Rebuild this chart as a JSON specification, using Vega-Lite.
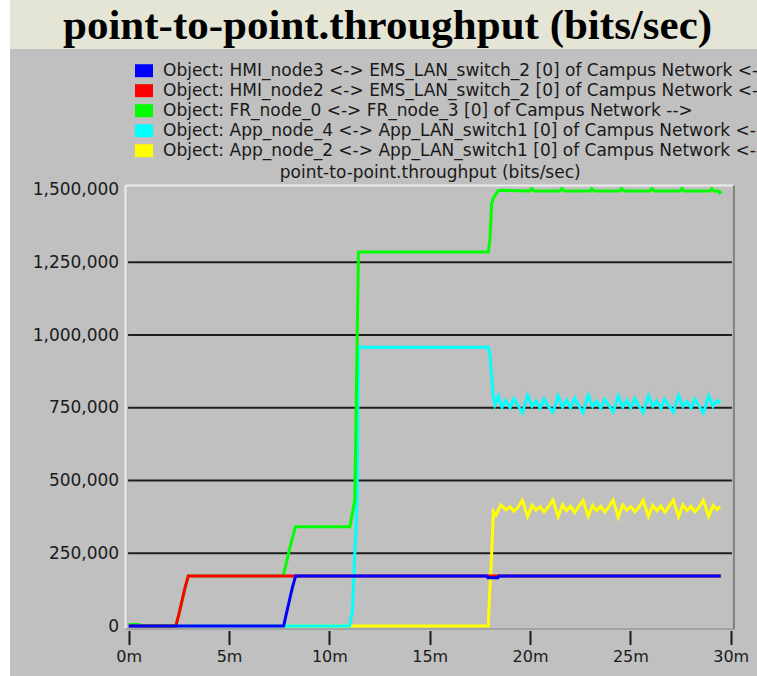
{
  "$schema": "https://vega.github.io/schema/vega-lite/v6.json",
  "background": "#ffffff",
  "padding": {"left": 10, "top": 0, "right": 0, "bottom": 0},
  "spacing": 0,
  "bounds": "flush",
  "config": {"view": {"stroke": null}, "font": "DejaVu Sans"},
  "datasets": {
    "names": [
      {"k": "B", "s": "Object: HMI_node3 <-> EMS_LAN_switch_2 [0] of Campus Network <--"},
      {"k": "R", "s": "Object: HMI_node2 <-> EMS_LAN_switch_2 [0] of Campus Network <--"},
      {"k": "G", "s": "Object: FR_node_0 <-> FR_node_3 [0] of Campus Network -->"},
      {"k": "C", "s": "Object: App_node_4 <-> App_LAN_switch1 [0] of Campus Network <--"},
      {"k": "Y", "s": "Object: App_node_2 <-> App_LAN_switch1 [0] of Campus Network <--"}
    ],
    "lines": [
      {"k":"Y","t":0,"v":0},{"k":"Y","t":17.92,"v":0},{"k":"Y","t":17.97,"v":90000},{"k":"Y","t":18.05,"v":190000},{"k":"Y","t":18.12,"v":300000},{"k":"Y","t":18.17,"v":393000},{"k":"Y","t":18.3,"v":381000},{"k":"Y","t":18.55,"v":416000},{"k":"Y","t":18.8,"v":399000},{"k":"Y","t":19.0,"v":410000},{"k":"Y","t":19.2,"v":394000},{"k":"Y","t":19.4,"v":408000},{"k":"Y","t":19.62,"v":432000},{"k":"Y","t":19.88,"v":376000},{"k":"Y","t":20.1,"v":415000},{"k":"Y","t":20.3,"v":398000},{"k":"Y","t":20.5,"v":410000},{"k":"Y","t":20.7,"v":392000},{"k":"Y","t":20.9,"v":408000},{"k":"Y","t":21.14,"v":433000},{"k":"Y","t":21.4,"v":375000},{"k":"Y","t":21.62,"v":417000},{"k":"Y","t":21.82,"v":396000},{"k":"Y","t":22.02,"v":412000},{"k":"Y","t":22.22,"v":390000},{"k":"Y","t":22.42,"v":410000},{"k":"Y","t":22.64,"v":431000},{"k":"Y","t":22.9,"v":377000},{"k":"Y","t":23.12,"v":414000},{"k":"Y","t":23.32,"v":397000},{"k":"Y","t":23.52,"v":411000},{"k":"Y","t":23.72,"v":391000},{"k":"Y","t":23.92,"v":409000},{"k":"Y","t":24.14,"v":433000},{"k":"Y","t":24.4,"v":374000},{"k":"Y","t":24.62,"v":416000},{"k":"Y","t":24.82,"v":398000},{"k":"Y","t":25.02,"v":410000},{"k":"Y","t":25.22,"v":393000},{"k":"Y","t":25.42,"v":407000},{"k":"Y","t":25.64,"v":432000},{"k":"Y","t":25.9,"v":376000},{"k":"Y","t":26.12,"v":415000},{"k":"Y","t":26.32,"v":396000},{"k":"Y","t":26.52,"v":412000},{"k":"Y","t":26.72,"v":391000},{"k":"Y","t":26.92,"v":410000},{"k":"Y","t":27.14,"v":433000},{"k":"Y","t":27.4,"v":375000},{"k":"Y","t":27.62,"v":416000},{"k":"Y","t":27.82,"v":397000},{"k":"Y","t":28.02,"v":411000},{"k":"Y","t":28.22,"v":392000},{"k":"Y","t":28.42,"v":408000},{"k":"Y","t":28.64,"v":432000},{"k":"Y","t":28.9,"v":377000},{"k":"Y","t":29.12,"v":414000},{"k":"Y","t":29.32,"v":400000},{"k":"Y","t":29.47,"v":410000},
      {"k":"C","t":0,"v":0},{"k":"C","t":11.0,"v":0},{"k":"C","t":11.15,"v":50000},{"k":"C","t":11.38,"v":430000},{"k":"C","t":11.45,"v":958000},{"k":"C","t":17.92,"v":958000},{"k":"C","t":18.0,"v":930000},{"k":"C","t":18.09,"v":856000},{"k":"C","t":18.17,"v":788000},{"k":"C","t":18.25,"v":760000},{"k":"C","t":18.42,"v":790000},{"k":"C","t":18.6,"v":752000},{"k":"C","t":18.8,"v":775000},{"k":"C","t":19.0,"v":750000},{"k":"C","t":19.2,"v":780000},{"k":"C","t":19.4,"v":758000},{"k":"C","t":19.62,"v":733000},{"k":"C","t":19.88,"v":792000},{"k":"C","t":20.1,"v":755000},{"k":"C","t":20.3,"v":773000},{"k":"C","t":20.5,"v":748000},{"k":"C","t":20.7,"v":780000},{"k":"C","t":20.9,"v":756000},{"k":"C","t":21.14,"v":735000},{"k":"C","t":21.4,"v":790000},{"k":"C","t":21.62,"v":752000},{"k":"C","t":21.82,"v":776000},{"k":"C","t":22.02,"v":750000},{"k":"C","t":22.22,"v":782000},{"k":"C","t":22.42,"v":757000},{"k":"C","t":22.64,"v":733000},{"k":"C","t":22.9,"v":793000},{"k":"C","t":23.12,"v":754000},{"k":"C","t":23.32,"v":772000},{"k":"C","t":23.52,"v":749000},{"k":"C","t":23.72,"v":779000},{"k":"C","t":23.92,"v":758000},{"k":"C","t":24.14,"v":736000},{"k":"C","t":24.4,"v":790000},{"k":"C","t":24.62,"v":753000},{"k":"C","t":24.82,"v":775000},{"k":"C","t":25.02,"v":750000},{"k":"C","t":25.22,"v":781000},{"k":"C","t":25.42,"v":756000},{"k":"C","t":25.64,"v":734000},{"k":"C","t":25.9,"v":791000},{"k":"C","t":26.12,"v":755000},{"k":"C","t":26.32,"v":774000},{"k":"C","t":26.52,"v":748000},{"k":"C","t":26.72,"v":779000},{"k":"C","t":26.92,"v":757000},{"k":"C","t":27.14,"v":735000},{"k":"C","t":27.4,"v":792000},{"k":"C","t":27.62,"v":754000},{"k":"C","t":27.82,"v":772000},{"k":"C","t":28.02,"v":750000},{"k":"C","t":28.22,"v":780000},{"k":"C","t":28.42,"v":756000},{"k":"C","t":28.64,"v":733000},{"k":"C","t":28.9,"v":791000},{"k":"C","t":29.12,"v":755000},{"k":"C","t":29.32,"v":775000},{"k":"C","t":29.5,"v":765000},
      {"k":"G","t":0,"v":5000},{"k":"G","t":0.5,"v":5000},{"k":"G","t":0.6,"v":0},{"k":"G","t":2.35,"v":0},{"k":"G","t":2.97,"v":172000},{"k":"G","t":7.69,"v":172000},{"k":"G","t":7.8,"v":200000},{"k":"G","t":8.0,"v":260000},{"k":"G","t":8.15,"v":300000},{"k":"G","t":8.31,"v":341000},{"k":"G","t":11.02,"v":341000},{"k":"G","t":11.27,"v":433000},{"k":"G","t":11.45,"v":1285000},{"k":"G","t":17.92,"v":1285000},{"k":"G","t":18.0,"v":1326000},{"k":"G","t":18.09,"v":1452000},{"k":"G","t":18.17,"v":1470000},{"k":"G","t":18.42,"v":1496000},{"k":"G","t":18.59,"v":1497000},{"k":"G","t":19.98,"v":1495000},{"k":"G","t":20.08,"v":1503000},{"k":"G","t":20.2,"v":1495000},{"k":"G","t":21.48,"v":1495000},{"k":"G","t":21.58,"v":1503000},{"k":"G","t":21.7,"v":1495000},{"k":"G","t":22.98,"v":1495000},{"k":"G","t":23.08,"v":1503000},{"k":"G","t":23.2,"v":1495000},{"k":"G","t":24.47,"v":1495000},{"k":"G","t":24.57,"v":1503000},{"k":"G","t":24.69,"v":1495000},{"k":"G","t":25.97,"v":1495000},{"k":"G","t":26.07,"v":1503000},{"k":"G","t":26.19,"v":1495000},{"k":"G","t":27.47,"v":1495000},{"k":"G","t":27.57,"v":1503000},{"k":"G","t":27.69,"v":1495000},{"k":"G","t":28.96,"v":1495000},{"k":"G","t":29.06,"v":1503000},{"k":"G","t":29.18,"v":1495000},{"k":"G","t":29.38,"v":1495000},{"k":"G","t":29.45,"v":1489000},{"k":"G","t":29.55,"v":1493000},
      {"k":"R","t":0,"v":0},{"k":"R","t":2.35,"v":0},{"k":"R","t":2.5,"v":40000},{"k":"R","t":2.65,"v":85000},{"k":"R","t":2.8,"v":130000},{"k":"R","t":2.97,"v":172000},{"k":"R","t":29.5,"v":172000},
      {"k":"B","t":0,"v":0},{"k":"B","t":7.72,"v":0},{"k":"B","t":7.85,"v":40000},{"k":"B","t":8.0,"v":85000},{"k":"B","t":8.15,"v":130000},{"k":"B","t":8.32,"v":172000},{"k":"B","t":17.85,"v":172000},{"k":"B","t":17.9,"v":166000},{"k":"B","t":18.4,"v":166000},{"k":"B","t":18.45,"v":172000},{"k":"B","t":29.5,"v":172000}
    ]
  },
  "vconcat": [
    {
      "width": 747,
      "height": 49,
      "view": {"fill": "#e5e5d6", "stroke": null},
      "data": {"values": [{"title": "point-to-point.throughput (bits/sec)"}]},
      "mark": {"type": "text", "font": "Liberation Serif", "fontWeight": "bold", "fontSize": 43, "baseline": "alphabetic", "align": "center", "color": "#000000", "dx": 4, "dy": 14},
      "encoding": {"text": {"field": "title"}}
    },
    {
      "width": 747,
      "height": 627,
      "view": {"fill": "#c0c0c0", "stroke": null},
      "resolve": {"axis": {"x": "independent", "y": "independent"}},
      "layer": [
        {
          "data": {"values": [{"g": 250000}, {"g": 500000}, {"g": 750000}, {"g": 1000000}, {"g": 1250000}]},
          "mark": {"type": "rule", "color": "#1e1e1e", "strokeWidth": 2},
          "encoding": {
            "y": {"field": "g", "type": "quantitative", "scale": {"domain": [-171821, 1982818], "nice": false, "zero": false}, "axis": null},
            "x": {"datum": -0.03, "type": "quantitative", "scale": {"domain": [-5.915, 31.311], "nice": false, "zero": false}, "axis": null},
            "x2": {"datum": 30.06}
          }
        },
        {
          "data": {"values": [{}]},
          "mark": {"type": "rule", "color": "#ececec", "strokeWidth": 2},
          "encoding": {
            "y": {"datum": 1513748, "type": "quantitative", "scale": {"domain": [-171821, 1982818], "nice": false, "zero": false}, "axis": null},
            "x": {"datum": -0.16, "type": "quantitative", "scale": {"domain": [-5.915, 31.311], "nice": false, "zero": false}, "axis": null},
            "x2": {"datum": 30.16}
          }
        },
        {
          "data": {"values": [{}]},
          "mark": {"type": "rule", "color": "#ececec", "strokeWidth": 2},
          "encoding": {
            "x": {"datum": -0.16, "type": "quantitative", "scale": {"domain": [-5.915, 31.311], "nice": false, "zero": false}, "axis": null},
            "y": {"datum": -10309, "type": "quantitative", "scale": {"domain": [-171821, 1982818], "nice": false, "zero": false}, "axis": null},
            "y2": {"datum": 1513748}
          }
        },
        {
          "data": {"values": [{}]},
          "mark": {"type": "rule", "color": "#808080", "strokeWidth": 2},
          "encoding": {
            "x": {"datum": 30.16, "type": "quantitative", "scale": {"domain": [-5.915, 31.311], "nice": false, "zero": false}, "axis": null},
            "y": {"datum": -12000, "type": "quantitative", "scale": {"domain": [-171821, 1982818], "nice": false, "zero": false}, "axis": null},
            "y2": {"datum": 1513748}
          }
        },
        {
          "data": {"values": [{}]},
          "mark": {"type": "rule", "color": "#9a9a9a", "strokeWidth": 1.5},
          "encoding": {
            "y": {"datum": -10309, "type": "quantitative", "scale": {"domain": [-171821, 1982818], "nice": false, "zero": false}, "axis": null},
            "x": {"datum": -0.16, "type": "quantitative", "scale": {"domain": [-5.915, 31.311], "nice": false, "zero": false}, "axis": null},
            "x2": {"datum": 30.16}
          }
        },
        {
          "data": {"name": "lines"},
          "transform": [{"lookup": "k", "from": {"data": {"name": "names"}, "key": "k", "fields": ["s"]}}],
          "mark": {"type": "line", "strokeWidth": 3, "strokeCap": "butt", "strokeJoin": "miter"},
          "encoding": {
            "x": {"field": "t", "type": "quantitative", "scale": {"domain": [-5.915, 31.311], "nice": false, "zero": false},
                  "axis": {"orient": "bottom", "offset": -45.5, "values": [0, 5, 10, 15, 20, 25, 30], "labelExpr": "datum.value + 'm'",
                           "domain": false, "grid": false, "ticks": true, "tickSize": 14, "tickWidth": 2, "tickColor": "#1a1a1a",
                           "labelFont": "DejaVu Sans", "labelFontSize": 16, "labelColor": "#1a1a1a", "labelPadding": 4, "labelFlush": false, "labelOverlap": false, "title": null}},
            "y": {"field": "v", "type": "quantitative", "scale": {"domain": [-171821, 1982818], "nice": false, "zero": false},
                  "axis": {"orient": "left", "offset": -118.7, "values": [0, 250000, 500000, 750000, 1000000, 1250000, 1500000], "format": ",.0f",
                           "domain": false, "grid": false, "ticks": false, "labelPadding": 10,
                           "labelFont": "DejaVu Sans", "labelFontSize": 17, "labelColor": "#1a1a1a", "labelOverlap": false,
                           "title": "point-to-point.throughput (bits/sec)", "titleFont": "DejaVu Sans", "titleFontSize": 17, "titleFontWeight": "normal", "titleColor": "#1a1a1a",
                           "titleAngle": 0, "titleX": 301, "titleY": 128, "titleAlign": "center", "titleBaseline": "alphabetic"}},
            "color": {"field": "s", "type": "nominal",
                      "scale": {"domain": [
                        "Object: HMI_node3 <-> EMS_LAN_switch_2 [0] of Campus Network <--",
                        "Object: HMI_node2 <-> EMS_LAN_switch_2 [0] of Campus Network <--",
                        "Object: FR_node_0 <-> FR_node_3 [0] of Campus Network -->",
                        "Object: App_node_4 <-> App_LAN_switch1 [0] of Campus Network <--",
                        "Object: App_node_2 <-> App_LAN_switch1 [0] of Campus Network <--"],
                        "range": ["#0000ff", "#ff0000", "#00ff00", "#00ffff", "#ffff00"]},
                      "legend": {"orient": "none", "legendX": 125, "legendY": 61.7, "title": null, "padding": 0,
                                 "symbolType": "M-1,-0.72H1V0.72H-1Z", "symbolSize": 324, "symbolStrokeWidth": 0, "symbolOpacity": 1,
                                 "labelFont": "DejaVu Sans", "labelFontSize": 17, "labelColor": "#1a1a1a", "labelLimit": 2000, "labelOffset": 10,
                                 "rowPadding": 3,
                                 "encode": {"symbols": {"update": {"fill": {"scale": "color", "field": "value"}, "fillOpacity": {"value": 1}, "strokeWidth": {"value": 0}}}}}}
          }
        }
      ]
    }
  ]
}
